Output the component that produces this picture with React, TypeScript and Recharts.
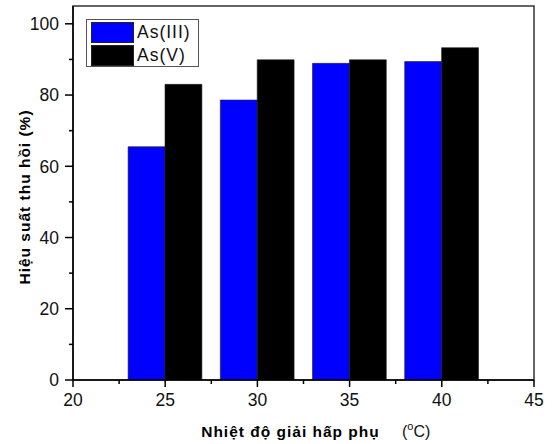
import React from 'react';
import { BarChart, Bar, XAxis, YAxis, Legend, ReferenceArea } from 'recharts';

/**
 * Hiệu suất thu hồi As(III) / As(V) theo nhiệt độ giải hấp phụ
 */

const temperatures = [25, 30, 35, 40];
const asIII = [65.5, 78.6, 88.9, 89.4];
const asV = [83.0, 89.9, 89.9, 93.3];
const seriesNames = ['As(III)', 'As(V)'];
const xTicks = [20, 22.5, 25, 27.5, 30, 32.5, 35, 37.5, 40, 42.5, 45];
const yTicks = [0, 10, 20, 30, 40, 50, 60, 70, 80, 90, 100];

const chartData = temperatures.map((t, i) => ({ t, asIII: asIII[i], asV: asV[i] }));

const FONT = '"Liberation Sans", Arial, sans-serif';
const X_TICK_SIZE = 7;
const X_TICK_MARGIN = 4;
const Y_TICK_SIZE = 8;
const Y_TICK_MARGIN = 6;

function XTick(props: any) {
    const { x, y, payload } = props;
    const axisY = y - X_TICK_SIZE - X_TICK_MARGIN;
    const major = payload.value % 5 === 0;
    return (
        <g>
            <line x1={x} x2={x} y1={axisY} y2={axisY + (major ? 7 : 4)} stroke="#000" strokeWidth={1.5} />
            {major && (
                <text x={x} y={axisY + 26} textAnchor="middle" fontSize={17.5} fill="#111" fontFamily={FONT}>
                    {payload.value}
                </text>
            )}
        </g>
    );
}

function YTick(props: any) {
    const { x, y, payload } = props;
    const axisX = x + Y_TICK_SIZE + Y_TICK_MARGIN;
    const major = payload.value % 20 === 0;
    return (
        <g>
            <line x1={axisX - (major ? 8 : 4)} x2={axisX} y1={y} y2={y} stroke="#000" strokeWidth={1.5} />
            {major && (
                <text x={axisX - 14} y={y} dy={6.3} textAnchor="end" fontSize={17.5} fill="#111" fontFamily={FONT}>
                    {payload.value}
                </text>
            )}
        </g>
    );
}

function LegendBox({ payload }: any) {
    return (
        <div
            style={{
                width: 113,
                height: 48,
                boxSizing: 'border-box',
                border: '1.5px solid #555',
                background: '#fff',
                padding: '0.5px 0 0 4px',
            }}
        >
            {(payload || []).map((p: any) => (
                <div key={p.value} style={{ display: 'flex', alignItems: 'center', height: 23 }}>
                    <span
                        style={{
                            display: 'inline-block',
                            width: 43,
                            height: 21,
                            background: p.color,
                            border: '1px solid #222',
                            boxSizing: 'border-box',
                        }}
                    />
                    <span style={{ marginLeft: 3, fontSize: 17.5, letterSpacing: 1, fontFamily: FONT, color: '#111' }}>
                        {p.value}
                    </span>
                </div>
            ))}
        </div>
    );
}

export default function App() {
    return (
        <div style={{ position: 'absolute', left: 0, top: 0, background: '#fff' }}>
            <BarChart
                width={555}
                height={444}
                data={chartData}
                margin={{ top: 6, right: 21, left: 8, bottom: 34 }}
                barGap={0}
                barSize={36.9}
            >
                <XAxis
                    dataKey="t"
                    type="number"
                    domain={[20, 45]}
                    allowDataOverflow
                    ticks={xTicks}
                    interval={0}
                    height={30}
                    tickSize={X_TICK_SIZE}
                    tickMargin={X_TICK_MARGIN}
                    tickLine={false}
                    tick={<XTick />}
                    axisLine={{ stroke: '#000', strokeWidth: 1.5 }}
                    label={{
                        content: () => (
                            <g>
                                <text x={290.5} y={437} textAnchor="middle" fontSize={15.5} fontWeight="bold" letterSpacing={1} fontFamily={FONT} fill="#000">
                                    Nhiệt độ giải hấp phụ
                                </text>
                                <text x={402} y={437} fontSize={16} fontFamily={FONT} fill="#111">
                                    (<tspan dy={-7} fontSize={11}>o</tspan>
                                    <tspan dy={7}>C)</tspan>
                                </text>
                            </g>
                        ),
                    }}
                />
                <YAxis
                    type="number"
                    domain={[0, 105]}
                    allowDataOverflow
                    ticks={yTicks}
                    interval={0}
                    width={65}
                    tickSize={Y_TICK_SIZE}
                    tickMargin={Y_TICK_MARGIN}
                    tickLine={false}
                    tick={<YTick />}
                    axisLine={{ stroke: '#000', strokeWidth: 1.5 }}
                    label={{
                        content: () => (
                            <text
                                x={30}
                                y={197}
                                transform="rotate(-90 30 197)"
                                textAnchor="middle"
                                fontSize={15.5}
                                fontWeight="bold"
                                letterSpacing={1}
                                fontFamily={FONT}
                                fill="#000"
                            >
                                Hiệu suất thu hồi (%)
                            </text>
                        ),
                    }}
                />
                <ReferenceArea x1={20} x2={45} y1={0} y2={105} fill="none" stroke="#333" strokeWidth={1.5} />
                <Legend
                    layout="vertical"
                    align="center"
                    verticalAlign="middle"
                    content={<LegendBox />}
                    wrapperStyle={{ position: 'absolute', left: 86, top: 19, width: 'auto' }}
                />
                <Bar dataKey="asIII" name={seriesNames[0]} fill="#0000ff" stroke="#222" strokeWidth={0.6} isAnimationActive={false} />
                <Bar dataKey="asV" name={seriesNames[1]} fill="#000000" stroke="#222" strokeWidth={0.6} isAnimationActive={false} />
            </BarChart>
        </div>
    );
}
